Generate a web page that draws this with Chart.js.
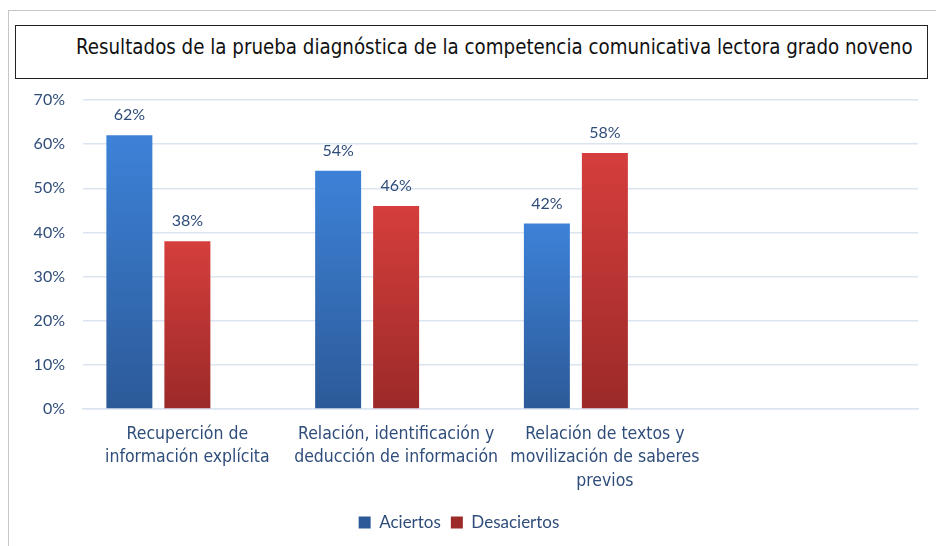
<!DOCTYPE html>
<html>
<head>
<meta charset="utf-8">
<script src="https://cdn.jsdelivr.net/npm/chart.js@4.4.1/dist/chart.umd.min.js"></script>
<style>
  html, body { margin: 0; padding: 0; background: #fff; }
  #wrap { position: relative; width: 936px; height: 546px; overflow: hidden; }
  #frame { position: absolute; left: 8px; top: 10px; width: 940px; height: 560px;
           border-top: 1px solid #c6c6c6; border-left: 1px solid #c6c6c6; }
  #titleBox { position: absolute; left: 15px; top: 25px; width: 913px; height: 54px;
              border: 1.5px solid #222; box-sizing: border-box; }
  #titleText { position: absolute; left: 60px; top: 8px; white-space: nowrap;
               font-family: 'Liberation Sans Narrow', 'DejaVu Sans Condensed', sans-serif;
               font-size: 22px; color: #111; transform-origin: 0 0; }
  canvas { position: absolute; left: 0; top: 0; }
</style>
</head>
<body>
<div id="wrap">
  <div id="frame"></div>
  <div id="titleBox"><span id="titleText">Resultados de la prueba diagnóstica de la competencia comunicativa lectora grado noveno</span></div>
  <canvas id="chart" width="936" height="546"></canvas>
</div>
<script>
// --- data ---
const categories = [
    ['Recuperción de', 'información explícita'],
    ['Relación, identificación y', 'deducción de información'],
    ['Relación de textos y', 'movilización de saberes', 'previos'],
    ''
];
const aciertos = [62, 54, 42, null];
const desaciertos = [38, 46, 58, null];
const yTicks = [0, 10, 20, 30, 40, 50, 60, 70];

// colours
const blueTop = '#3d82d8', blueBottom = '#2c5a98', blueSolid = '#3a6fbf';
const redTop = '#d53e3c', redBottom = '#9b2a28', redSolid = '#c3322f';
const textBlue = '#2f4d7a';

// fit title width to the reference
const t = document.getElementById('titleText');
t.style.transform = 'scaleX(' + (837 / t.offsetWidth) + ')';

function barGradient(top, bottom, solid) {
    return ctx => {
        if (ctx.type !== 'data' || ctx.parsed == null || ctx.parsed.y == null) return solid;
        const chart = ctx.chart;
        const y = chart.scales.y;
        if (!y) return solid;
        const y0 = y.getPixelForValue(ctx.parsed.y);
        const y1 = y.getPixelForValue(0);
        if (!isFinite(y0) || !isFinite(y1) || y0 === y1) return solid;
        const g = chart.ctx.createLinearGradient(0, y0, 0, y1);
        g.addColorStop(0, top);
        g.addColorStop(1, bottom);
        return g;
    };
}

// value labels above bars
const valueLabels = {
    id: 'valueLabels',
    afterDatasetsDraw(chart) {
        const ctx = chart.ctx;
        ctx.save();
        ctx.font = "16px 'Lato', 'Open Sans', sans-serif";
        ctx.fillStyle = textBlue;
        ctx.textAlign = 'center';
        ctx.textBaseline = 'middle';
        chart.data.datasets.forEach((ds, i) => {
            if (ds.hideLabel) return;
            chart.getDatasetMeta(i).data.forEach((el, j) => {
                const v = ds.data[j];
                if (v == null) return;
                ctx.fillText(v + '%', el.x, el.y - 20);
            });
        });
        ctx.restore();
    }
};

new Chart(document.getElementById('chart'), {
    type: 'bar',
    data: {
        labels: categories,
        datasets: [
            { label: 'Aciertos', data: aciertos, backgroundColor: barGradient(blueTop, blueBottom, blueSolid) },
            { label: 'Desaciertos', data: desaciertos, backgroundColor: barGradient(redTop, redBottom, redSolid) },
            // empty slot: Excel leaves the groups left of the category centre
            { label: '', data: [null, null, null, null], backgroundColor: 'rgba(0,0,0,0)', hideLabel: true }
        ]
    },
    options: {
        responsive: false,
        animation: false,
        categoryPercentage: 0.8335,
        barPercentage: 0.793,
        layout: { padding: { left: 0, right: 18, top: 100, bottom: 5 } },
        plugins: {
            legend: {
                position: 'bottom',
                labels: {
                    filter: item => item.text !== '',
                    boxWidth: 12, boxHeight: 12, padding: 10,
                    color: textBlue,
                    font: { family: "'Lato', 'Open Sans', sans-serif", size: 17 }
                }
            },
            tooltip: { enabled: false }
        },
        scales: {
            y: {
                min: 0, max: 70,
                afterFit: s => { s.width = 83; },
                afterBuildTicks: s => { s.ticks = yTicks.map(v => ({ value: v })); },
                ticks: {
                    padding: 18,
                    color: textBlue,
                    font: { family: "'Lato', 'Open Sans', sans-serif", size: 16 },
                    callback: v => v + '%'
                },
                grid: { color: '#dbe5f1', lineWidth: 1.5, drawTicks: false },
                border: { display: false }
            },
            x: {
                afterFit: s => { s.height = 95; },
                ticks: {
                    padding: 14,
                    maxRotation: 0,
                    autoSkip: false,
                    color: textBlue,
                    font: { family: "'Liberation Sans Narrow', 'DejaVu Sans Condensed', sans-serif", size: 17.5, lineHeight: 1.33 }
                },
                grid: { display: false, drawTicks: false },
                border: { color: '#dbe5f1', width: 1.5 }
            }
        }
    },
    plugins: [valueLabels]
});
</script>
</body>
</html>
